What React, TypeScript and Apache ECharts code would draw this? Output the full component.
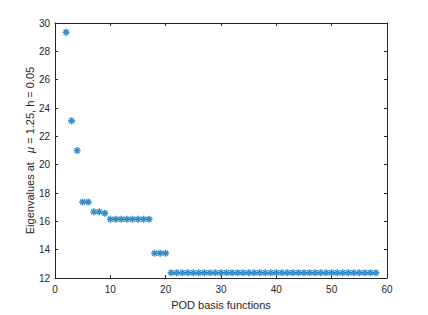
import React, { useEffect, useRef } from "react";
import * as echarts from "echarts";

const firstBasisIndex = 2;
const eigenvalues = [
  29.35, 23.1, 21.0, 17.37, 17.37, 16.67, 16.67, 16.57,
  16.15, 16.15, 16.15, 16.15, 16.15, 16.15, 16.15, 16.15,
  13.75, 13.75, 13.75,
  12.37, 12.37, 12.37, 12.37, 12.37, 12.37, 12.37, 12.37, 12.37, 12.37,
  12.37, 12.37, 12.37, 12.37, 12.37, 12.37, 12.37, 12.37, 12.37, 12.37,
  12.37, 12.37, 12.37, 12.37, 12.37, 12.37, 12.37, 12.37, 12.37, 12.37,
  12.37, 12.37, 12.37, 12.37, 12.37, 12.37, 12.37, 12.37,
];
const xTicks = [0, 10, 20, 30, 40, 50, 60];
const yTicks = [12, 14, 16, 18, 20, 22, 24, 26, 28, 30];

const FONT = "'Liberation Sans', Arial, Helvetica, sans-serif";
const AX = "#262626";
const ASTERISK =
  "path://M5,0L5,10M0,5L10,5M1.46,1.46L8.54,8.54M8.54,1.46L1.46,8.54";

export default function App() {
  const ref = useRef<HTMLDivElement>(null);
  useEffect(() => {
    document.body.style.margin = "0";
    if (!ref.current) return;
    const chart = echarts.init(ref.current, undefined, { renderer: "svg" });
    const data = eigenvalues.map((v, i) => [firstBasisIndex + i, v]);
    const axisCommon = {
      axisLine: { show: true, onZero: false, lineStyle: { color: AX, width: 1 } },
      axisTick: { show: true, inside: true, length: 3, lineStyle: { color: AX, width: 1 } },
      splitLine: { show: false },
    };
    chart.setOption({
      animation: false,
      backgroundColor: "#ffffff",
      grid: { left: 55, right: 41, top: 23, bottom: 35, containLabel: false },
      xAxis: [
        {
          type: "value",
          min: xTicks[0],
          max: xTicks[xTicks.length - 1],
          interval: 10,
          position: "bottom",
          ...axisCommon,
          axisLabel: { color: AX, fontSize: 10, fontFamily: FONT, margin: 6 },
          name: "POD basis functions",
          nameLocation: "middle",
          nameGap: 21,
          nameMoveOverlap: false,
          nameTextStyle: { color: AX, fontSize: 11, fontFamily: FONT },
        },
        {
          type: "value",
          min: xTicks[0],
          max: xTicks[xTicks.length - 1],
          interval: 10,
          position: "top",
          ...axisCommon,
          axisLabel: { show: false },
        },
      ],
      yAxis: [
        {
          type: "value",
          min: yTicks[0],
          max: yTicks[yTicks.length - 1],
          interval: 2,
          position: "left",
          ...axisCommon,
          axisLabel: { color: AX, fontSize: 10, fontFamily: FONT, margin: 5 },
          name: "Eigenvalues at   {i|μ} = 1.25, h = 0.05",
          nameLocation: "middle",
          nameGap: 20,
          nameMoveOverlap: false,
          nameTextStyle: {
            color: AX,
            fontSize: 11,
            fontFamily: FONT,
            rich: {
              i: { fontStyle: "italic", fontSize: 11, fontFamily: FONT, color: AX },
            },
          },
        },
        {
          type: "value",
          min: yTicks[0],
          max: yTicks[yTicks.length - 1],
          interval: 2,
          position: "right",
          ...axisCommon,
          axisLabel: { show: false },
        },
      ],
      series: [
        {
          type: "scatter",
          xAxisIndex: 0,
          yAxisIndex: 0,
          data,
          symbol: ASTERISK,
          symbolSize: 7,
          itemStyle: { color: "none", borderColor: "#0072BD", borderWidth: 1.4 },
        },
      ],
    });
    return () => chart.dispose();
  }, []);
  return <div ref={ref} style={{ width: 428, height: 315 }} />;
}
